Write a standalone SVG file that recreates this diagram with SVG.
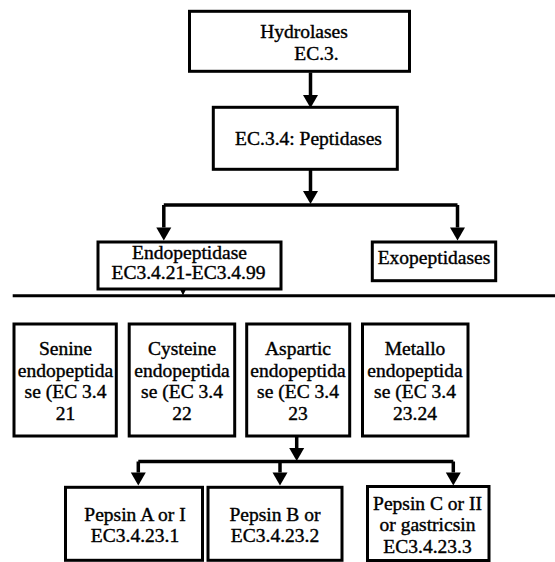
<svg xmlns="http://www.w3.org/2000/svg" width="555" height="562" viewBox="0 0 555 562">
<defs>
<style>
.box{fill:#fff;stroke:#000;stroke-width:3}
.ln{fill:none;stroke:#000;stroke-width:3.5}
text{font-family:'Liberation Serif','Times New Roman',serif;font-size:19.5px;fill:#000;stroke:#000;stroke-width:0.4;text-anchor:middle}
.ah{fill:#000}
</style>
<marker id="arr" markerUnits="userSpaceOnUse" markerWidth="14" markerHeight="16" refX="0" refY="7.5" orient="auto" overflow="visible">
<path d="M0,0 L13,7.5 L0,15 Z" fill="#000"/>
</marker>
</defs>
<rect width="555" height="562" fill="#fff"/>
<g id="connectors">
<path class="ln" d="M310.5,72.5 V95" marker-end="url(#arr)"/>
<path class="ln" d="M310.5,170 V191" marker-end="url(#arr)"/>
<path class="ln" d="M163.8,205 H457.5"/>
<path class="ln" d="M163.8,205 V227.5" marker-end="url(#arr)"/>
<path class="ln" d="M457.5,205 V227.5" marker-end="url(#arr)"/>
<polygon class="ah" points="177,283 189,283 183,295.5"/>
<path class="ln" d="M12.7,295.7 H555" style="stroke-width:3"/>
<path class="ln" d="M296.7,436 V448" marker-end="url(#arr)"/>
<path class="ln" d="M138.3,461.5 H453.3"/>
<path class="ln" d="M138.3,461.5 V472.5" marker-end="url(#arr)"/>
<path class="ln" d="M280,461.5 V472.5" marker-end="url(#arr)"/>
<path class="ln" d="M453.3,461.5 V472.5" marker-end="url(#arr)"/>
</g>
<g id="hydrolases">
<rect class="box" x="189.5" y="11.3" width="220" height="60"/>
<text x="304" y="37.5">Hydrolases</text>
<text x="316.5" y="59.5">EC.3.</text>
</g>
<g id="peptidases">
<rect class="box" x="213.3" y="107.3" width="184" height="62"/>
<text x="308.5" y="144.5">EC.3.4: Peptidases</text>
</g>
<g id="endopeptidase">
<rect class="box" x="98" y="242" width="183" height="47"/>
<text x="189.5" y="259">Endopeptidase</text>
<text x="188.5" y="278.5">EC3.4.21-EC3.4.99</text>
</g>
<g id="exopeptidases">
<rect class="box" x="372.3" y="242" width="123.4" height="38.7"/>
<text x="434" y="263.5">Exopeptidases</text>
</g>
<g id="serine">
<rect class="box" x="14" y="324" width="102.3" height="112"/>
<text x="65.5" y="355">Senine</text>
<text x="65.5" y="376.7">endopeptida</text>
<text x="65.5" y="398.3">se (EC 3.4</text>
<text x="65.5" y="420">21</text>
</g>
<g id="cysteine">
<rect class="box" x="129.2" y="324" width="105.5" height="112"/>
<text x="182" y="355">Cysteine</text>
<text x="182" y="376.7">endopeptida</text>
<text x="182" y="398.3">se (EC 3.4</text>
<text x="182" y="420">22</text>
</g>
<g id="aspartic">
<rect class="box" x="246.7" y="324" width="103" height="112"/>
<text x="298" y="355">Aspartic</text>
<text x="298" y="376.7">endopeptida</text>
<text x="298" y="398.3">se (EC 3.4</text>
<text x="298" y="420">23</text>
</g>
<g id="metallo">
<rect class="box" x="362.5" y="324" width="105.5" height="112"/>
<text x="415" y="355">Metallo</text>
<text x="415" y="376.7">endopeptida</text>
<text x="415" y="398.3">se (EC 3.4</text>
<text x="415" y="420">23.24</text>
</g>
<g id="pepsinA">
<rect class="box" x="65.5" y="487.3" width="137" height="73"/>
<text x="135" y="521">Pepsin A or I</text>
<text x="135" y="542">EC3.4.23.1</text>
</g>
<g id="pepsinB">
<rect class="box" x="208" y="487.3" width="134" height="73"/>
<text x="275" y="521">Pepsin B or</text>
<text x="275" y="542">EC3.4.23.2</text>
</g>
<g id="pepsinC">
<rect class="box" x="367.5" y="486.5" width="121.5" height="74"/>
<text x="427.5" y="510">Pepsin C or II</text>
<text x="427.5" y="531">or gastricsin</text>
<text x="427.5" y="552.5">EC3.4.23.3</text>
</g>
</svg>
